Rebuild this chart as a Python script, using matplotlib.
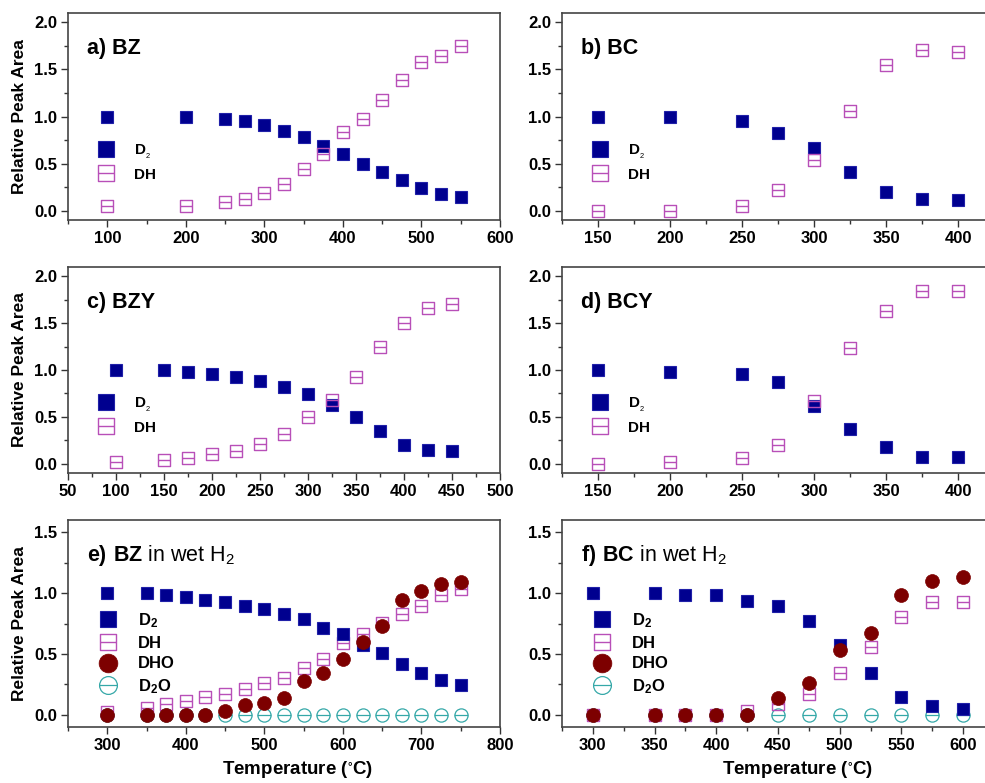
import numpy as np
import matplotlib.pyplot as plt
from matplotlib.path import Path
from matplotlib.ticker import MultipleLocator

plt.rcParams['font.family'] = ['Liberation Sans', 'DejaVu Sans']
plt.rcParams['mathtext.fontset'] = 'custom'
plt.rcParams['mathtext.rm'] = 'Liberation Sans'
plt.rcParams['mathtext.bf'] = 'Liberation Sans:bold'
plt.rcParams['mathtext.default'] = 'regular'

# ---- data ----
# a) BZ
bz_T = [100, 200, 250, 275, 300, 325, 350, 375, 400, 425, 450, 475, 500, 525, 550]
bz_D2 = [1.0, 1.0, 0.97, 0.95, 0.905, 0.85, 0.78, 0.69, 0.605, 0.50, 0.41, 0.33, 0.24, 0.18, 0.14]
bz_DH = [0.05, 0.05, 0.096, 0.12, 0.19, 0.28, 0.44, 0.60, 0.83, 0.97, 1.18, 1.39, 1.58, 1.64, 1.75]

# b) BC
bc_T = [150, 200, 250, 275, 300, 325, 350, 375, 400]
bc_D2 = [1.0, 1.0, 0.95, 0.82, 0.67, 0.41, 0.20, 0.12, 0.11]
bc_DH = [0.0, 0.0, 0.05, 0.22, 0.54, 1.06, 1.55, 1.71, 1.69]

# c) BZY
bzy_T = [100, 150, 175, 200, 225, 250, 275, 300, 325, 350, 375, 400, 425, 450]
bzy_D2 = [1.0, 1.0, 0.98, 0.96, 0.92, 0.88, 0.815, 0.745, 0.63, 0.50, 0.35, 0.20, 0.145, 0.13]
bzy_DH = [0.02, 0.04, 0.06, 0.10, 0.135, 0.205, 0.32, 0.50, 0.68, 0.93, 1.25, 1.50, 1.66, 1.71]

# d) BCY
bcy_T = [150, 200, 250, 275, 300, 325, 350, 375, 400]
bcy_D2 = [1.0, 0.98, 0.96, 0.87, 0.62, 0.37, 0.18, 0.07, 0.07]
bcy_DH = [0.0, 0.02, 0.06, 0.20, 0.67, 1.23, 1.63, 1.84, 1.84]

# e) BZ in wet H2
bzw_T = [300, 350, 375, 400, 425, 450, 475, 500, 525, 550, 575, 600, 625, 650, 675, 700, 725, 750]
bzw_D2 = [1.0, 1.0, 0.98, 0.97, 0.94, 0.925, 0.895, 0.87, 0.83, 0.785, 0.71, 0.66, 0.575, 0.505,
          0.42, 0.34, 0.285, 0.245]
bzw_DH = [0.02, 0.055, 0.09, 0.115, 0.145, 0.175, 0.21, 0.26, 0.305, 0.385, 0.455, 0.59, 0.665,
          0.755, 0.83, 0.895, 0.985, 1.035]
bzw_DHO = [0.0, 0.0, 0.0, 0.0, 0.0, 0.035, 0.08, 0.095, 0.14, 0.275, 0.34, 0.455, 0.595, 0.73,
           0.945, 1.02, 1.075, 1.09]
bzw_D2O = [0.0] * 18

# f) BC in wet H2
bcw_T = [300, 350, 375, 400, 425, 450, 475, 500, 525, 550, 575, 600]
bcw_D2 = [1.0, 1.0, 0.985, 0.98, 0.935, 0.89, 0.77, 0.575, 0.345, 0.15, 0.07, 0.05]
bcw_DH = [0.0, 0.0, 0.0, 0.0, 0.035, 0.085, 0.17, 0.345, 0.56, 0.805, 0.925, 0.93]
bcw_DHO = [0.0, 0.0, 0.0, 0.0, 0.0, 0.14, 0.26, 0.535, 0.675, 0.98, 1.10, 1.13]
bcw_D2O = [0.0] * 12

# ---- markers: square / circle with a horizontal bar ----
sq = Path([(-1, -1), (1, -1), (1, 1), (-1, 1), (-1, -1), (-1, 0), (1, 0)],
          [Path.MOVETO, Path.LINETO, Path.LINETO, Path.LINETO, Path.CLOSEPOLY,
           Path.MOVETO, Path.LINETO])
bar = Path([(-1, 0), (1, 0)], [Path.MOVETO, Path.LINETO])
circ = Path.make_compound_path(Path.unit_circle(), bar)

c_d2 = '#00008f'
c_dh = '#b84fb8'
c_dho = '#7d0000'
c_d2o = '#35a8a8'

W, H = 985, 783
fig = plt.figure(figsize=(W / 100, H / 100), dpi=100)


def make_ax(x0, x1, y0, y1):
    return fig.add_axes([x0 / W, 1 - y1 / H, (x1 - x0) / W, (y1 - y0) / H])


def style(ax, xlim, xmaj, ylim, ymaj):
    ax.set_xlim(*xlim)
    ax.set_ylim(*ylim)
    ax.xaxis.set_major_locator(MultipleLocator(xmaj))
    ax.xaxis.set_minor_locator(MultipleLocator(xmaj / 2))
    ax.yaxis.set_major_locator(MultipleLocator(0.5))
    ax.yaxis.set_minor_locator(MultipleLocator(0.25))
    ax.tick_params(which='both', direction='out', top=False, right=False,
                   labelsize=12, width=1, color='#333333')
    ax.tick_params(which='major', length=5, pad=3)
    ax.tick_params(which='minor', length=3)
    for lab in ax.get_xticklabels() + ax.get_yticklabels():
        lab.set_fontweight('bold')
    for s in ax.spines.values():
        s.set_linewidth(1.2)
        s.set_color('#444444')


def dry_panel(ax, T, d2, dh, label):
    ax.plot(T, d2, ls='none', marker='s', ms=9, mfc=c_d2, mec='#2020a8', mew=0.8,
            label=r'D$_{\mathrm{_2}}$')
    ax.plot(T, dh, ls='none', marker=sq, ms=9, mfc='none', mec=c_dh, mew=1.0,
            label='DH')
    ax.text(0.045, 0.83, label, transform=ax.transAxes, fontsize=15.5,
            fontweight='bold', va='center')
    ax.legend(loc='center left', bbox_to_anchor=(0.035, 0.28), frameon=False,
              markerscale=1.35, handlelength=1.2, handletextpad=1.2,
              labelspacing=0.45, prop={'weight': 'bold', 'size': 11})


def wet_panel(ax, T, d2, dh, dho, d2o, label):
    ax.plot(T, d2o, ls='none', marker=circ, ms=9.5, mfc='none', mec=c_d2o, mew=0.9,
            label=r'D$_2$O', zorder=2)
    ax.plot(T, dh, ls='none', marker=sq, ms=8.5, mfc='none', mec=c_dh, mew=1.0,
            label='DH', zorder=3)
    ax.plot(T, d2, ls='none', marker='s', ms=8.5, mfc=c_d2, mec='#2020a8', mew=0.8,
            label=r'D$_2$', zorder=3)
    ax.plot(T, dho, ls='none', marker='o', ms=10, mfc=c_dho, mec=c_dho, mew=0.5,
            label='DHO', zorder=4)
    ax.text(0.045, 0.83, label, transform=ax.transAxes, fontsize=15.5, va='center')
    h, l = ax.get_legend_handles_labels()
    order = [2, 1, 3, 0]
    ax.legend([h[i] for i in order], [l[i] for i in order], loc='center left',
              bbox_to_anchor=(0.035, 0.355), frameon=False, markerscale=1.35,
              handlelength=1.2, handletextpad=1.2, labelspacing=0.35,
              prop={'weight': 'bold', 'size': 12})


lx0, lx1 = 68, 500
rx0, rx1 = 562, 994
rows = [(13, 220), (267, 473), (520, 727)]

ax_a = make_ax(lx0, lx1, *rows[0])
dry_panel(ax_a, bz_T, bz_D2, bz_DH, 'a) BZ')
style(ax_a, (50, 600), 100, (-0.1, 2.1), 0.5)

ax_b = make_ax(rx0, rx1, *rows[0])
dry_panel(ax_b, bc_T, bc_D2, bc_DH, 'b) BC')
style(ax_b, (125, 425), 50, (-0.1, 2.1), 0.5)

ax_c = make_ax(lx0, lx1, *rows[1])
dry_panel(ax_c, bzy_T, bzy_D2, bzy_DH, 'c) BZY')
style(ax_c, (50, 500), 50, (-0.1, 2.1), 0.5)

ax_d = make_ax(rx0, rx1, *rows[1])
dry_panel(ax_d, bcy_T, bcy_D2, bcy_DH, 'd) BCY')
style(ax_d, (125, 425), 50, (-0.1, 2.1), 0.5)

ax_e = make_ax(lx0, lx1, *rows[2])
wet_panel(ax_e, bzw_T, bzw_D2, bzw_DH, bzw_DHO, bzw_D2O, r'$\mathbf{e)\ BZ}$ in wet H$_2$')
style(ax_e, (250, 800), 100, (-0.1, 1.6), 0.5)

ax_f = make_ax(rx0, rx1, *rows[2])
wet_panel(ax_f, bcw_T, bcw_D2, bcw_DH, bcw_DHO, bcw_D2O, r'$\mathbf{f)\ BC}$ in wet H$_2$')
style(ax_f, (275, 625), 50, (-0.1, 1.6), 0.5)

for ax in [ax_a, ax_c, ax_e]:
    ax.set_ylabel('Relative Peak Area', fontsize=12.5, fontweight='bold')
    ax.yaxis.set_label_coords(-0.095, 0.5)
for ax, xc in [(ax_e, 0.532), (ax_f, 0.546)]:
    ax.set_xlabel(r'Temperature ($^{\circ}$C)', fontsize=13.5, fontweight='bold')
    ax.xaxis.set_label_coords(xc, -0.155)

fig.savefig('out.png', dpi=100)
